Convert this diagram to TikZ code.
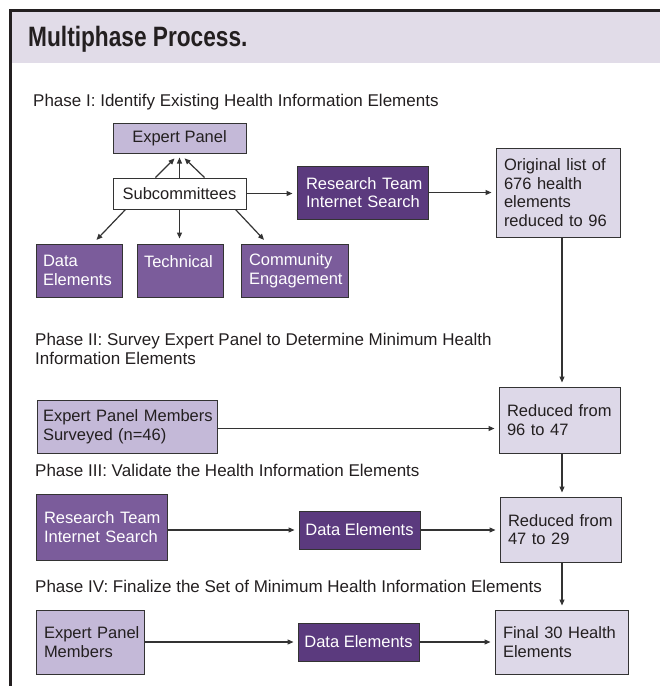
\documentclass[tikz,border=0pt]{standalone}
\usepackage{fontspec}
\setmainfont{Liberation Sans}
\newfontfamily\titlefont[FakeStretch=0.81]{Liberation Sans Bold}
\usetikzlibrary{arrows.meta,calc}
\definecolor{hdr}{HTML}{E1DCE8}
\definecolor{lite}{HTML}{DDD8E8}
\definecolor{lav}{HTML}{C4B9D8}
\definecolor{mid}{HTML}{7B5C9B}
\definecolor{dark}{HTML}{5B3A7E}
\definecolor{ink}{HTML}{333333}
\definecolor{txt}{HTML}{231F20}
\definecolor{frame}{HTML}{231F20}
\tikzset{
  bxbase/.style={draw=ink, line width=1pt, inner ysep=0pt, inner xsep=0pt,
    font=\fontsize{16.5}{18.5}\selectfont, align=left},
  litebox/.style={bxbase, fill=lite, text=txt},
  lavbox/.style={bxbase, fill=lav, text=txt},
  midbox/.style={bxbase, fill=mid, text=white},
  darkbox/.style={bxbase, fill=dark, text=white},
  whitebox/.style={bxbase, fill=white, text=txt},
  phase/.style={anchor=base west, inner sep=0pt, font=\fontsize{17}{19}\selectfont, text=txt},
  arr/.style={draw=ink, line width=1.2pt, -{Triangle[length=6pt,width=5pt]}, shorten >=4pt},
}
\begin{document}
\begin{tikzpicture}[x=1pt,y=-1pt]
\useasboundingbox (0,0) rectangle (660,686);
% header
\fill[hdr] (12,12) rectangle (660,63);
\node[anchor=base west, inner sep=0pt, font=\titlefont\fontsize{28}{30}\selectfont, text=txt] (title) at (28,46.7) {Multiphase Process.};
\draw[frame, line width=3pt] (10.5,686) -- (10.5,10.5) -- (660,10.5);

% phase labels
\node[phase] (p1) at (33,106) {Phase I: Identify Existing Health Information Elements};
\node[phase] (p2a) at (35,345) {Phase II: Survey Expert Panel to Determine Minimum Health};
\node[phase] (p2b) at (35,364) {Information Elements};
\node[phase] (p3) at (35,476) {Phase III: Validate the Health Information Elements};
\node[phase] (p4) at (35,592.5) {Phase IV: Finalize the Set of Minimum Health Information Elements};

% Phase I
\node[lavbox, align=center, minimum width=133pt, minimum height=30pt] (EP) at (179.5,138) {Expert Panel};
\node[whitebox, align=center, minimum width=133pt, minimum height=31pt] (Sub) at (179.5,193.5) {Subcommittees};
\node[darkbox, minimum width=131pt, minimum height=53pt, text width=113pt] (RT1) at (362.5,192.5) {\mbox{Research Team}\\\mbox{Internet Search}};
\node[litebox, minimum width=124pt, minimum height=89pt, text width=108pt] (OL) at (558,192.5) {\mbox{Original list of}\\\mbox{676 health}\\\mbox{elements}\\\mbox{reduced to 96}};
\node[midbox, minimum width=86pt, minimum height=53pt, text width=72pt] (DE1) at (79,270.5) {\mbox{Data}\\\mbox{Elements}};
\node[midbox, minimum width=86pt, minimum height=53pt, text width=72pt] (TE) at (180,270.5) {\mbox{Technical}\\\mbox{}};
\node[midbox, minimum width=107pt, minimum height=53pt, text width=91pt] (CE) at (294.5,270.5) {\mbox{Community}\\\mbox{Engagement}};

% Phase II
\node[lavbox, minimum width=180pt, minimum height=53pt, text width=168pt] (EPM) at (127,426.5) {\mbox{Expert Panel Members}\\\mbox{Surveyed (n=46)}};
\node[litebox, minimum width=121pt, minimum height=66pt, text width=105pt] (R1) at (559.5,420) {\mbox{Reduced from}\\\mbox{96 to 47}};

% Phase III
\node[midbox, minimum width=131pt, minimum height=66pt, text width=115pt] (RT3) at (101.5,527) {\mbox{Research Team}\\\mbox{Internet Search}};
\node[darkbox, align=center, minimum width=121pt, minimum height=38pt] (DE3) at (359.5,530) {Data Elements};
\node[litebox, minimum width=121pt, minimum height=65pt, text width=105pt] (R2) at (560.5,529.5) {\mbox{Reduced from}\\\mbox{47 to 29}};

% Phase IV
\node[lavbox, minimum width=108pt, minimum height=64pt, text width=92pt] (EPM4) at (90,642) {\mbox{Expert Panel}\\\mbox{Members}};
\node[darkbox, align=center, minimum width=121pt, minimum height=38pt] (DE4) at (358.5,642) {Data Elements};
\node[litebox, minimum width=133pt, minimum height=64pt, text width=117pt] (F) at (561.5,642) {\mbox{Final 30 Health}\\\mbox{Elements}};

% connectors Phase I
\draw[arr, shorten >=7pt] ($(Sub.north)+(-24,0)$) -- (EP.south);
\draw[arr] (Sub.north) -- (Sub.north |- EP.south);
\draw[arr, shorten >=7pt] ($(Sub.north)+(25,0)$) -- (EP.south);
\draw[arr] (Sub.east) -- (Sub.east -| RT1.west);
\draw[arr] (RT1.east) -- (RT1.east -| OL.west);
\draw[arr, shorten >=5pt] ($(Sub.south west)+(13,0)$) -- ($(DE1.north)+(14,0)$);
\draw[arr, shorten >=5pt] (Sub.south) -- (Sub.south |- TE.north);
\draw[arr, shorten >=5pt] ($(Sub.south east)+(-11,0)$) -- ($(CE.north west)+(27,0)$);

% vertical chain
\coordinate (col) at (562,0);
\draw[arr] (OL.south -| col) -- (R1.north -| col);
\draw[arr] (R1.south -| col) -- (R2.north -| col);
\draw[arr] (R2.south -| col) -- (F.north -| col);

% Phase II-IV horizontals
\draw[arr] ($(EPM.east)+(0,2)$) -- ($(EPM.east -| R1.west)+(0,2)$);
\draw[arr] (DE3.west -| RT3.east) -- (DE3.west);
\draw[arr] (DE3.east) -- (DE3.east -| R2.west);
\draw[arr] (DE4.west -| EPM4.east) -- (DE4.west);
\draw[arr] (DE4.east) -- (DE4.east -| F.west);
\end{tikzpicture}
\end{document}
